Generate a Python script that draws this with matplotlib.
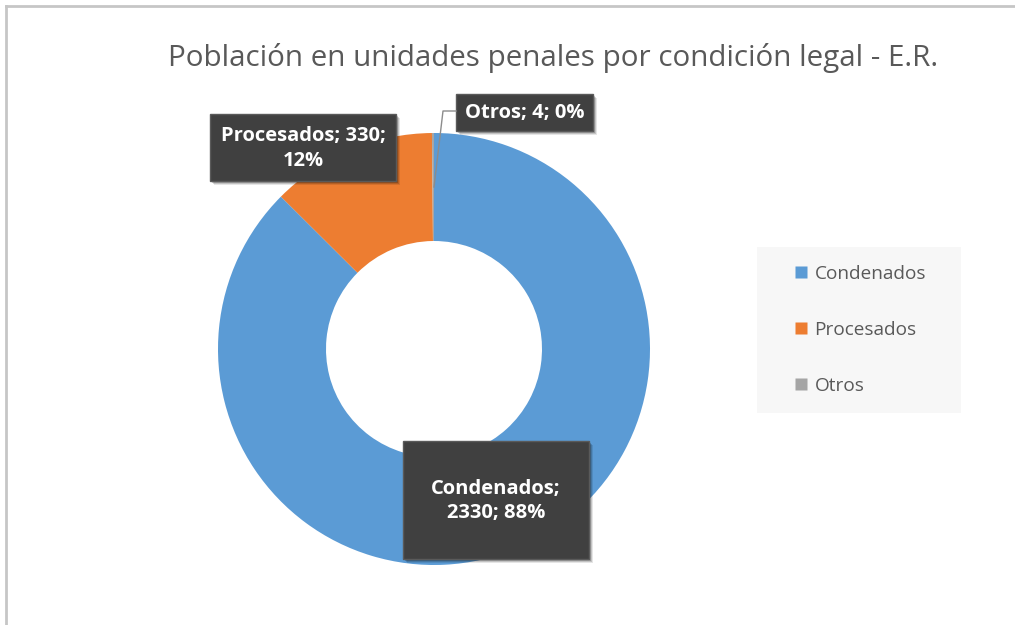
import matplotlib
matplotlib.use("Agg")
import matplotlib.pyplot as plt
from matplotlib.patches import Rectangle
from matplotlib.lines import Line2D

# ---------------------------------------------------------------------------
# Data
# ---------------------------------------------------------------------------
categories = ["Condenados", "Procesados", "Otros"]
values     = [2330, 330, 4]
pct_shown  = [88, 12, 0]          # percentages as printed on the labels
colors     = ["#5B9BD5", "#ED7D31", "#A5A5A5"]
title      = "Población en unidades penales por condición legal - E.R."

# label line breaks: index of the "; " after which the label wraps (None = single line)
label_break = [1, 2, None]

W, H = 1015, 625
plt.rcParams["font.family"] = ["Open Sans", "DejaVu Sans"]

fig = plt.figure(figsize=(W / 100, H / 100), dpi=100)
fig.patch.set_facecolor("white")


def px(x, y):
    """pixel coords (top-left origin) -> figure fraction"""
    return x / W, 1 - y / H


# chart border (top and left visible)
fig.add_artist(Line2D([6 / W, 1], [1 - 6 / H] * 2, transform=fig.transFigure,
                      color="#c6c6c6", lw=2))
fig.add_artist(Line2D([6 / W] * 2, [0, 1 - 6 / H], transform=fig.transFigure,
                      color="#c6c6c6", lw=2))

# donut: centre (434, 349) px, outer radius 216 px
cx, cy, r = 434, 349, 216
ax = fig.add_axes([(cx - r) / W, (H - cy - r) / H, 2 * r / W, 2 * r / H])
ax.pie(values, colors=colors, startangle=90, counterclock=False, radius=1,
       wedgeprops=dict(width=0.5, edgecolor="none"))
ax.set_xlim(-1, 1)
ax.set_ylim(-1, 1)
ax.axis("off")

fig.text(*px(553, 58), title, ha="center", va="center", fontsize=21.3,
         color="#595959")


# data labels (dark boxes)
def label_text(i):
    parts = [categories[i], str(values[i]), f"{pct_shown[i]}%"]
    b = label_break[i]
    if b is None:
        return "; ".join(parts)
    return "; ".join(parts[:b]) + ";\n" + "; ".join(parts[b:])


boxes = [(403, 441, 589, 559), (210, 114, 396, 181), (456, 94, 593, 131)]
for i, (x0, y0, x1, y1) in enumerate(boxes):
    # soft shadow
    for k, a in [(4, 0.10), (3, 0.15), (2, 0.20)]:
        sx, sy = px(x0 + k, y1 + k)
        fig.add_artist(Rectangle((sx, sy), (x1 - x0) / W, (y1 - y0) / H,
                                 transform=fig.transFigure, fc="black",
                                 ec="none", alpha=a))
    bx, by = px(x0, y1)
    fig.add_artist(Rectangle((bx, by), (x1 - x0) / W, (y1 - y0) / H,
                             transform=fig.transFigure, fc="#404040",
                             ec="#5a5a5a", lw=1))
    fig.text(*px((x0 + x1) / 2, (y0 + y1) / 2 + 1), label_text(i), ha="center",
             va="center", fontsize=14.5, fontweight="bold", color="white",
             linespacing=1.3)

# leader line for "Otros"
lx = [456, 443, 434]
ly = [111, 111, 187]
fig.add_artist(Line2D([x / W for x in lx], [1 - y / H for y in ly],
                      transform=fig.transFigure, color="#8c8c8c", lw=1))

# legend
lx0, ly0, lx1, ly1 = 757, 247, 961, 413
bx, by = px(lx0, ly1)
fig.add_artist(Rectangle((bx, by), (lx1 - lx0) / W, (ly1 - ly0) / H,
                         transform=fig.transFigure, fc="#f7f7f7", ec="none"))
handles = [Line2D([], [], marker="s", ls="none", markersize=8,
                  markerfacecolor=c, markeredgecolor="none") for c in colors]
leg = fig.legend(handles, categories, loc="center left",
                 bbox_to_anchor=px(786, 330), frameon=False, fontsize=13.7,
                 labelspacing=2.0, handlelength=0.8, handletextpad=0.3,
                 borderaxespad=0)
for t in leg.get_texts():
    t.set_color("#595959")

fig.savefig("out.png", dpi=100)
